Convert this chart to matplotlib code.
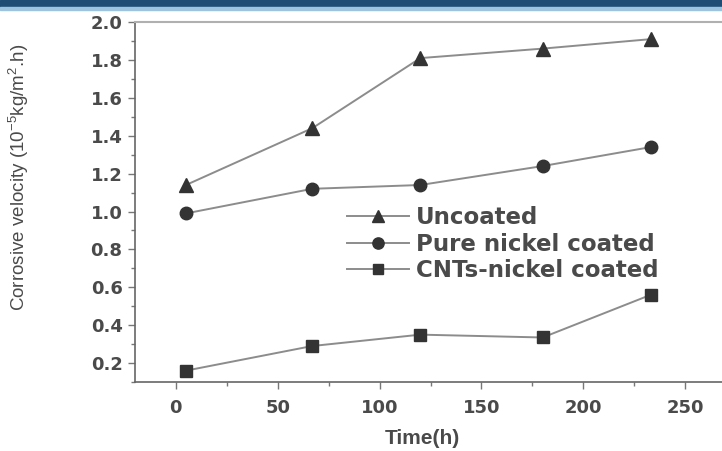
import numpy as np
import matplotlib.pyplot as plt
from matplotlib.patches import Rectangle
from matplotlib.ticker import MultipleLocator

plt.rcParams['font.family'] = ['Liberation Sans', 'DejaVu Sans']
plt.rcParams['mathtext.fontset'] = 'custom'
plt.rcParams['mathtext.rm'] = 'Liberation Sans'

time_h = [5, 67, 120, 180, 233]
uncoated = [1.14, 1.44, 1.81, 1.86, 1.91]
pure_nickel = [0.99, 1.12, 1.14, 1.24, 1.34]
cnts_nickel = [0.16, 0.29, 0.35, 0.335, 0.56]

series = [
    ("Uncoated", uncoated, "^", 10),
    ("Pure nickel coated", pure_nickel, "o", 9),
    ("CNTs-nickel coated", cnts_nickel, "s", 8.5),
]

text_c = "#4a4a4a"
line_c = "#8c8c8c"
mark_c = "#333333"

fig = plt.figure(figsize=(7.22, 4.51), dpi=100)
fig.patches.append(Rectangle((0, 0.984), 1, 0.016, transform=fig.transFigure,
                             color="#1f4c73", zorder=0))
fig.patches.append(Rectangle((0, 0.978), 1, 0.006, transform=fig.transFigure,
                             color="#9ec3dc", zorder=0))

ax = fig.add_axes([0.187, 0.153, 0.813, 0.798])

for name, vals, m, ms in series:
    ax.plot(time_h, vals, color=line_c, lw=1.4, marker=m, ms=ms,
            mfc=mark_c, mec=mark_c, label=name)

ax.set_xlim(-20, 268)
ax.set_ylim(0.1, 2.0)
ax.xaxis.set_major_locator(MultipleLocator(50))
ax.xaxis.set_minor_locator(MultipleLocator(25))
ax.yaxis.set_minor_locator(MultipleLocator(0.1))
ax.set_yticks(np.arange(0.2, 2.01, 0.2))
ax.set_yticklabels([f"{v:.1f}" for v in np.arange(0.2, 2.01, 0.2)])

ax.spines['right'].set_visible(False)
for s in ['left', 'bottom']:
    ax.spines[s].set_color("#666666")
    ax.spines[s].set_linewidth(1.2)
ax.spines['top'].set_color("#b0b0b0")
ax.spines['top'].set_linewidth(1.5)

ax.tick_params(which='major', direction='out', length=5, width=1, color="#777777",
               labelsize=13, labelcolor=text_c, pad=4)
ax.tick_params(axis='x', which='major', pad=7)
ax.tick_params(which='minor', direction='out', length=3, width=1, color="#777777")
for lab in ax.get_xticklabels() + ax.get_yticklabels():
    lab.set_family('DejaVu Sans')
    lab.set_fontweight('bold')

ax.set_xlabel("Time(h)", fontsize=15, color=text_c, fontweight='bold')
ax.xaxis.set_label_coords(0.49, -0.13)
ax.set_ylabel("Corrosive velocity (10$^{-5}$kg/m$^{2}$.h)", fontsize=13.5,
              color=text_c)
ax.yaxis.set_label_coords(-0.178, 0.57)

leg = ax.legend(loc='upper left', bbox_to_anchor=(0.326, 0.545), frameon=False,
                prop={'family': 'DejaVu Sans', 'weight': 'bold', 'size': 16.5},
                labelspacing=0.15, handlelength=2.7, handletextpad=0.3,
                markerscale=0.9)
for t in leg.get_texts():
    t.set_color(text_c)

fig.savefig("out.png", dpi=100)
